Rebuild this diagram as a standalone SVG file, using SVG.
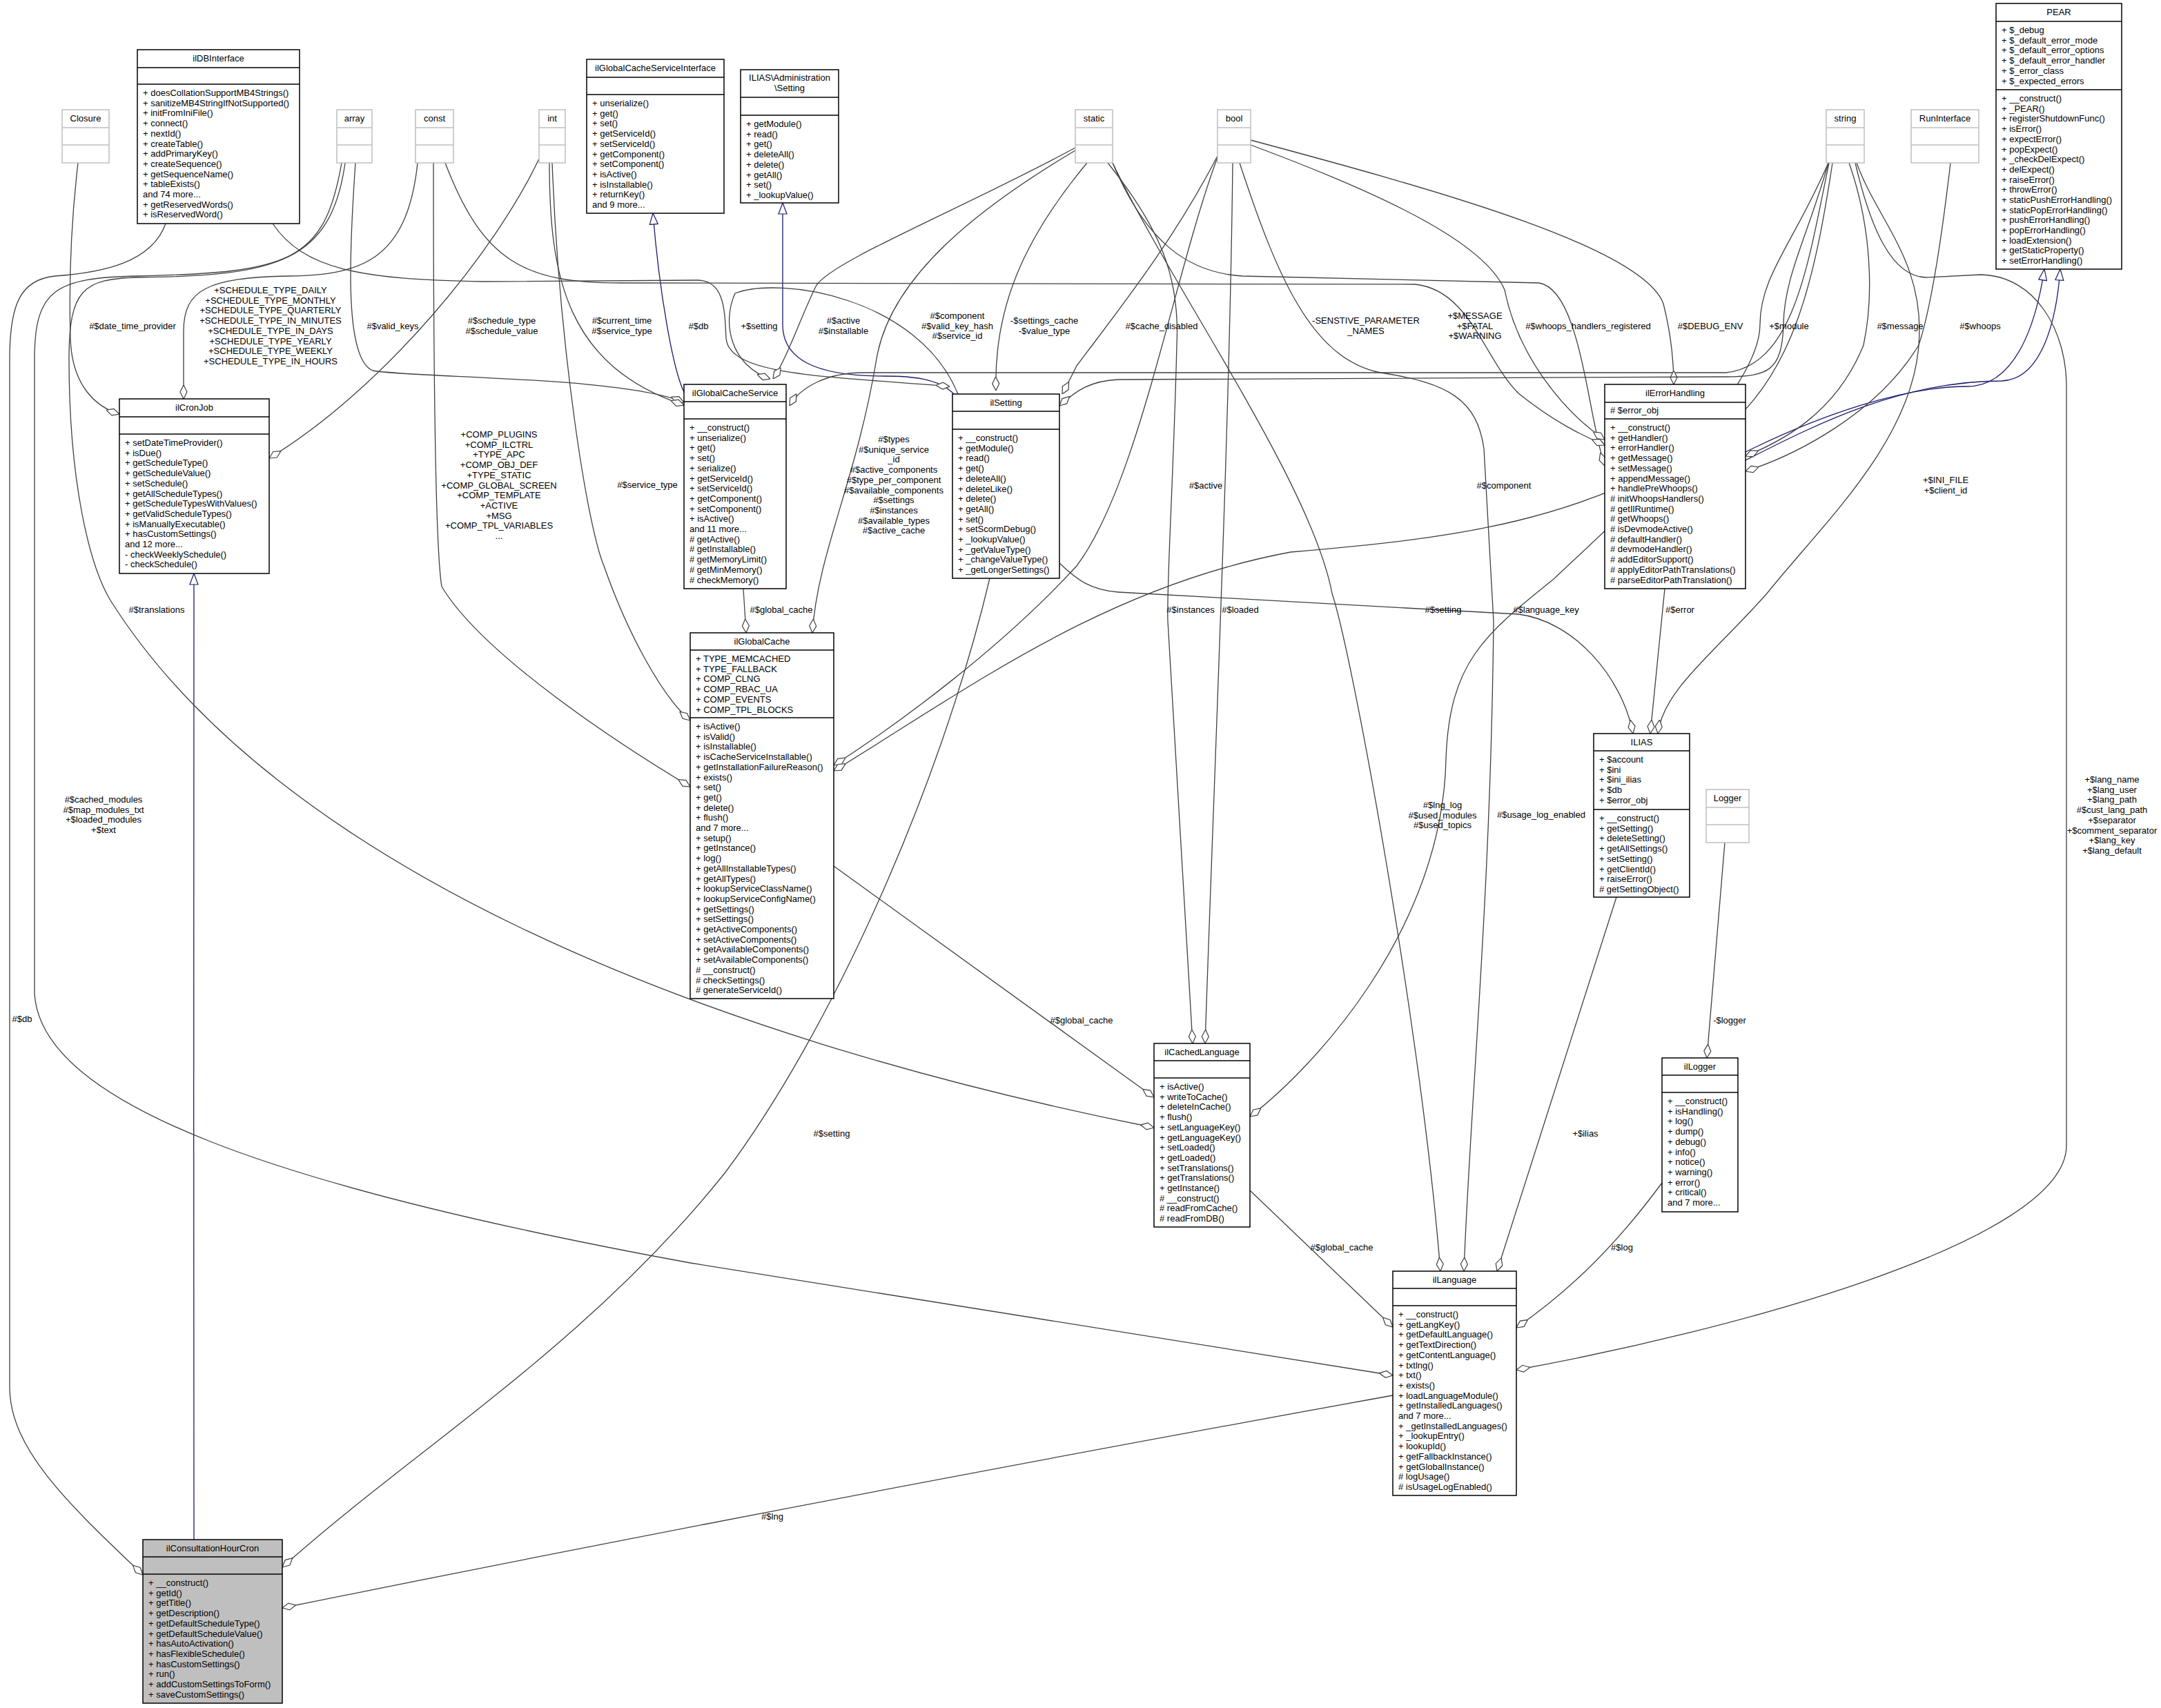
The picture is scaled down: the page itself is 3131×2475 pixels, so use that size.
<svg xmlns="http://www.w3.org/2000/svg" width="3131" height="2475" viewBox="0 0 3131 2475">
<style>
text{font-family:"Liberation Sans",Arial,sans-serif;font-size:13px;fill:#000}
.t{text-anchor:middle}
.l{text-anchor:middle}
.b{fill:#fff;stroke:#000;stroke-width:1.5}
.g{fill:#fff;stroke:#bfbfbf;stroke-width:1.5}
.s{stroke:#000;stroke-width:1.5}
.sg{stroke:#bfbfbf;stroke-width:1.5}
.e{fill:none;stroke:#404040;stroke-width:1.3}
.i{fill:none;stroke:#191970;stroke-width:1.3}
</style>
<defs>
<marker id="d" viewBox="0 -6 20 12" refX="20" refY="0" markerWidth="20" markerHeight="12" markerUnits="userSpaceOnUse" orient="auto"><path d="M20,0 L10,-5 L0,0 L10,5 Z" fill="#fff" stroke="#404040" stroke-width="1.2"/></marker>
<marker id="tr" viewBox="0 -7 18 14" refX="17" refY="0" markerWidth="18" markerHeight="14" markerUnits="userSpaceOnUse" orient="auto"><path d="M1,-6 L17,0 L1,6 Z" fill="#fff" stroke="#191970" stroke-width="1.2"/></marker>
</defs>
<rect width="3131" height="2475" fill="#fff"/>
<g id="connectors">
<path class="i" marker-end="url(#tr)" d="M281,2231 C281,1800 280,1200 281,831"/>
<path class="i" marker-end="url(#tr)" d="M993,572 C975,540 955,420 946,309"/>
<path class="i" marker-end="url(#tr)" d="M1382,571 C1360,548 1320,545 1281,545 C1180,545 1134,520 1134,470 L1134,294"/>
<path class="i" marker-end="url(#tr)" d="M2529,655 C2640,600 2760,560 2850,560 C2920,560 2950,470 2962,390"/>
<path class="i" marker-end="url(#tr)" d="M2529,667 C2640,610 2760,552 2900,552 C2960,550 2980,460 2985,390"/>
<path class="e" marker-end="url(#d)" d="M113,236 C102,330 100,420 102,490 C104,560 140,590 173,600"/>
<path class="e" marker-end="url(#d)" d="M605,236 C590,380 520,398 420,400 C300,402 266,420 266,480 L266,578"/>
<path class="e" marker-end="url(#d)" d="M515,236 C505,380 500,520 540,537 C600,548 900,545 991,583"/>
<path class="e" marker-end="url(#d)" d="M781,230 C720,360 560,560 390,664"/>
<path class="e" marker-end="url(#d)" d="M796,236 C796,400 820,530 991,587"/>
<path class="e" marker-end="url(#d)" d="M395,324 C440,390 520,405 700,408 L1010,406 C1050,406 1050,450 1052,490 C1056,545 1200,545 1376,560"/>
<path class="e" marker-end="url(#d)" d="M1388,571 C1330,430 1130,400 1065,425 C1045,470 1060,530 1116,549"/>
<path class="e" marker-end="url(#d)" d="M1558,214 C1400,300 1200,380 1182,415 C1160,460 1140,520 1120,549"/>
<path class="e" marker-end="url(#d)" d="M2650,236 C2620,380 2600,530 2500,540 L1250,540 C1200,540 1160,560 1144,588"/>
<path class="e" marker-end="url(#d)" d="M1575,236 C1480,350 1440,450 1443,566"/>
<path class="e" marker-end="url(#d)" d="M1764,226 C1700,350 1620,450 1560,530 C1550,550 1545,560 1539,571"/>
<path class="e" marker-end="url(#d)" d="M1612,236 C1660,350 1720,395 1800,400 L2230,410 C2290,420 2300,600 2325,675"/>
<path class="e" marker-end="url(#d)" d="M645,236 C700,380 760,410 900,410 L2050,412 C2130,420 2150,520 2200,570 C2250,610 2290,630 2325,645"/>
<path class="e" marker-end="url(#d)" d="M1812,210 C2000,280 2150,350 2180,420 C2200,520 2270,600 2325,637"/>
<path class="e" marker-end="url(#d)" d="M1812,203 C2100,280 2380,360 2410,440 C2420,480 2425,520 2425,557"/>
<path class="e" marker-end="url(#d)" d="M2649,236 C2620,340 2585,400 2584,470 C2582,540 2560,545 2500,546 L1620,550 C1580,552 1560,565 1535,588"/>
<path class="e" marker-end="url(#d)" d="M2679,236 C2712,330 2715,430 2700,500 C2660,600 2580,640 2529,661"/>
<path class="e" marker-end="url(#d)" d="M2826,236 C2815,330 2800,440 2780,500 C2720,600 2600,660 2529,683"/>
<path class="e" marker-end="url(#d)" d="M2690,236 C2720,320 2790,380 2780,500 C2770,640 2640,760 2560,860 C2480,950 2410,1000 2402,1063"/>
<path class="e" marker-end="url(#d)" d="M2412,853 L2391,1063"/>
<path class="e" marker-end="url(#d)" d="M1535,816 C1560,840 1580,855 1620,858 L2200,890 C2280,900 2350,980 2366,1063"/>
<path class="e" marker-end="url(#d)" d="M2649,236 C2600,350 2550,400 2550,470 C2550,560 2400,700 2250,840 C2150,920 2100,960 2095,1100 C2090,1350 1900,1550 1811,1618"/>
<path class="e" marker-end="url(#d)" d="M1605,236 C1680,330 1710,400 1705,500 C1700,700 1690,850 1692,900 L1728,1512"/>
<path class="e" marker-end="url(#d)" d="M1786,236 C1782,600 1760,1100 1746,1512"/>
<path class="e" marker-end="url(#d)" d="M1764,228 C1700,400 1650,700 1560,820 C1450,940 1300,1050 1208,1109"/>
<path class="e" marker-end="url(#d)" d="M2655,236 C2630,400 2600,540 2500,620 C2300,760 2100,780 1870,800 C1600,850 1400,1000 1208,1117"/>
<path class="e" marker-end="url(#d)" d="M1558,218 C1420,300 1290,400 1270,520 C1240,700 1185,800 1177,917"/>
<path class="e" marker-end="url(#d)" d="M1077,853 L1081,917"/>
<path class="e" marker-end="url(#d)" d="M628,236 C628,500 630,790 640,850 C700,950 900,1080 1000,1140"/>
<path class="e" marker-end="url(#d)" d="M800,236 C810,500 850,760 875,820 C910,920 960,1010 1000,1044"/>
<path class="e" marker-end="url(#d)" d="M1434,838 C1360,1150 1200,1500 1050,1700 C850,1950 600,2100 409,2271"/>
<path class="e" marker-end="url(#d)" d="M2018,2022 Q1200,2170 409,2330"/>
<path class="e" marker-end="url(#d)" d="M1208,1255 L1672,1590"/>
<path class="e" marker-end="url(#d)" d="M1811,1725 L2018,1923"/>
<path class="e" marker-end="url(#d)" d="M1612,236 C1700,420 1900,700 1930,860 C1960,950 2060,1500 2087,1842"/>
<path class="e" marker-end="url(#d)" d="M1796,236 C1850,400 1900,520 2000,540 C2100,555 2140,580 2150,650 L2164,900 C2160,1300 2130,1600 2121,1842"/>
<path class="e" marker-end="url(#d)" d="M2342,1300 L2169,1842"/>
<path class="e" marker-end="url(#d)" d="M2499,1221 L2473,1533"/>
<path class="e" marker-end="url(#d)" d="M2408,1714 C2330,1820 2260,1880 2197,1924"/>
<path class="e" marker-end="url(#d)" d="M2688,236 C2710,330 2740,400 2790,402 L2870,398 C2950,400 2994,480 2994,560 L2994,1660 C2994,1800 2500,1930 2197,1985"/>
<path class="e" marker-end="url(#d)" d="M240,324 C220,380 150,395 80,400 C30,405 14,440 14,520 L14,2010 C14,2100 100,2180 207,2282"/>
<path class="e" marker-end="url(#d)" d="M495,236 C470,380 420,395 200,400 C80,402 50,420 50,520 L50,1440 C60,1600 400,1720 1000,1830 L2018,1993"/>
<path class="e" marker-end="url(#d)" d="M500,236 C480,380 400,400 200,402 C120,404 100,420 100,520 C100,700 130,820 160,870 C400,1250 1000,1500 1672,1634"/>
<g>
<text class="l" x="192" y="477">#$date_time_provider</text>
<text class="l" x="392" y="425"><tspan x="392">+SCHEDULE_TYPE_DAILY</tspan><tspan x="392" dy="14.7">+SCHEDULE_TYPE_MONTHLY</tspan><tspan x="392" dy="14.7">+SCHEDULE_TYPE_QUARTERLY</tspan><tspan x="392" dy="14.7">+SCHEDULE_TYPE_IN_MINUTES</tspan><tspan x="392" dy="14.7">+SCHEDULE_TYPE_IN_DAYS</tspan><tspan x="392" dy="14.7">+SCHEDULE_TYPE_YEARLY</tspan><tspan x="392" dy="14.7">+SCHEDULE_TYPE_WEEKLY</tspan><tspan x="392" dy="14.7">+SCHEDULE_TYPE_IN_HOURS</tspan></text>
<text class="l" x="569" y="477">#$valid_keys</text>
<text class="l" x="727" y="469"><tspan x="727">#$schedule_type</tspan><tspan x="727" dy="14.7">#$schedule_value</tspan></text>
<text class="l" x="901" y="469"><tspan x="901">#$current_time</tspan><tspan x="901" dy="14.7">#$service_type</tspan></text>
<text class="l" x="1012" y="477">#$db</text>
<text class="l" x="1100" y="477">+$setting</text>
<text class="l" x="1222" y="469"><tspan x="1222">#$active</tspan><tspan x="1222" dy="14.7">#$installable</tspan></text>
<text class="l" x="1387" y="462"><tspan x="1387">#$component</tspan><tspan x="1387" dy="14.7">#$valid_key_hash</tspan><tspan x="1387" dy="14.7">#$service_id</tspan></text>
<text class="l" x="1513" y="469"><tspan x="1513">-$settings_cache</tspan><tspan x="1513" dy="14.7">-$value_type</tspan></text>
<text class="l" x="1683" y="477">#$cache_disabled</text>
<text class="l" x="1979" y="469"><tspan x="1979">-SENSTIVE_PARAMETER</tspan><tspan x="1979" dy="14.7">_NAMES</tspan></text>
<text class="l" x="2137" y="462"><tspan x="2137">+$MESSAGE</tspan><tspan x="2137" dy="14.7">+$FATAL</tspan><tspan x="2137" dy="14.7">+$WARNING</tspan></text>
<text class="l" x="2301" y="477">#$whoops_handlers_registered</text>
<text class="l" x="2478" y="477">#$DEBUG_ENV</text>
<text class="l" x="2592" y="477">+$module</text>
<text class="l" x="2753" y="477">#$message</text>
<text class="l" x="2869" y="477">#$whoops</text>
<text class="l" x="1295" y="641"><tspan x="1295">#$types</tspan><tspan x="1295" dy="14.7">#$unique_service</tspan><tspan x="1295" dy="14.7">_id</tspan><tspan x="1295" dy="14.7">#$active_components</tspan><tspan x="1295" dy="14.7">#$type_per_component</tspan><tspan x="1295" dy="14.7">#$available_components</tspan><tspan x="1295" dy="14.7">#$settings</tspan><tspan x="1295" dy="14.7">#$instances</tspan><tspan x="1295" dy="14.7">#$available_types</tspan><tspan x="1295" dy="14.7">#$active_cache</tspan></text>
<text class="l" x="723" y="634"><tspan x="723">+COMP_PLUGINS</tspan><tspan x="723" dy="14.7">+COMP_ILCTRL</tspan><tspan x="723" dy="14.7">+TYPE_APC</tspan><tspan x="723" dy="14.7">+COMP_OBJ_DEF</tspan><tspan x="723" dy="14.7">+TYPE_STATIC</tspan><tspan x="723" dy="14.7">+COMP_GLOBAL_SCREEN</tspan><tspan x="723" dy="14.7">+COMP_TEMPLATE</tspan><tspan x="723" dy="14.7">+ACTIVE</tspan><tspan x="723" dy="14.7">+MSG</tspan><tspan x="723" dy="14.7">+COMP_TPL_VARIABLES</tspan><tspan x="723" dy="14.7">...</tspan></text>
<text class="l" x="938" y="707">#$service_type</text>
<text class="l" x="1747" y="708">#$active</text>
<text class="l" x="2179" y="708">#$component</text>
<text class="l" x="2819" y="700"><tspan x="2819">+$INI_FILE</tspan><tspan x="2819" dy="14.7">+$client_id</tspan></text>
<text class="l" x="1132" y="888">#$global_cache</text>
<text class="l" x="1725" y="888">#$instances</text>
<text class="l" x="1797" y="888">#$loaded</text>
<text class="l" x="2091" y="888">#$setting</text>
<text class="l" x="2240" y="888">#$language_key</text>
<text class="l" x="2434" y="888">#$error</text>
<text class="l" x="227" y="888">#$translations</text>
<text class="l" x="150" y="1163"><tspan x="150">#$cached_modules</tspan><tspan x="150" dy="14.7">#$map_modules_txt</tspan><tspan x="150" dy="14.7">+$loaded_modules</tspan><tspan x="150" dy="14.7">+$text</tspan></text>
<text class="l" x="32" y="1481">#$db</text>
<text class="l" x="2090" y="1171"><tspan x="2090">#$lng_log</tspan><tspan x="2090" dy="14.7">#$used_modules</tspan><tspan x="2090" dy="14.7">#$used_topics</tspan></text>
<text class="l" x="2233" y="1185">#$usage_log_enabled</text>
<text class="l" x="3060" y="1134"><tspan x="3060">+$lang_name</tspan><tspan x="3060" dy="14.7">+$lang_user</tspan><tspan x="3060" dy="14.7">+$lang_path</tspan><tspan x="3060" dy="14.7">#$cust_lang_path</tspan><tspan x="3060" dy="14.7">+$separator</tspan><tspan x="3060" dy="14.7">+$comment_separator</tspan><tspan x="3060" dy="14.7">+$lang_key</tspan><tspan x="3060" dy="14.7">+$lang_default</tspan></text>
<text class="l" x="1567" y="1483">#$global_cache</text>
<text class="l" x="2506" y="1483">-$logger</text>
<text class="l" x="1205" y="1647">#$setting</text>
<text class="l" x="2297" y="1647">+$ilias</text>
<text class="l" x="1944" y="1812">#$global_cache</text>
<text class="l" x="2350" y="1812">#$log</text>
<text class="l" x="1119" y="2202">#$lng</text>
</g>
</g>
<g id="ilDBInterface"><rect class="b" x="199" y="72" width="235" height="252"/><line class="s" x1="199" y1="98" x2="434" y2="98"/><line class="s" x1="199" y1="122" x2="434" y2="122"/><text class="t" x="316.5" y="89">ilDBInterface</text><text x="207" y="139"><tspan x="207">+ doesCollationSupportMB4Strings()</tspan><tspan x="207" dy="14.7">+ sanitizeMB4StringIfNotSupported()</tspan><tspan x="207" dy="14.7">+ initFromIniFile()</tspan><tspan x="207" dy="14.7">+ connect()</tspan><tspan x="207" dy="14.7">+ nextId()</tspan><tspan x="207" dy="14.7">+ createTable()</tspan><tspan x="207" dy="14.7">+ addPrimaryKey()</tspan><tspan x="207" dy="14.7">+ createSequence()</tspan><tspan x="207" dy="14.7">+ getSequenceName()</tspan><tspan x="207" dy="14.7">+ tableExists()</tspan><tspan x="207" dy="14.7">and 74 more...</tspan><tspan x="207" dy="14.7">+ getReservedWords()</tspan><tspan x="207" dy="14.7">+ isReservedWord()</tspan></text></g>
<g id="Closure"><rect class="g" x="90" y="159" width="68" height="77"/><line class="sg" x1="90" y1="185" x2="158" y2="185"/><line class="sg" x1="90" y1="210" x2="158" y2="210"/><text class="t" x="124" y="176">Closure</text></g>
<g id="array"><rect class="g" x="488" y="159" width="51" height="77"/><line class="sg" x1="488" y1="185" x2="539" y2="185"/><line class="sg" x1="488" y1="210" x2="539" y2="210"/><text class="t" x="513.5" y="176">array</text></g>
<g id="const"><rect class="g" x="602" y="159" width="55" height="77"/><line class="sg" x1="602" y1="185" x2="657" y2="185"/><line class="sg" x1="602" y1="210" x2="657" y2="210"/><text class="t" x="629.5" y="176">const</text></g>
<g id="int"><rect class="g" x="781" y="159" width="38" height="77"/><line class="sg" x1="781" y1="185" x2="819" y2="185"/><line class="sg" x1="781" y1="210" x2="819" y2="210"/><text class="t" x="800" y="176">int</text></g>
<g id="ilGlobalCacheServiceInterface"><rect class="b" x="850" y="86" width="199" height="223"/><line class="s" x1="850" y1="112" x2="1049" y2="112"/><line class="s" x1="850" y1="137" x2="1049" y2="137"/><text class="t" x="949.5" y="103">ilGlobalCacheServiceInterface</text><text x="858" y="154"><tspan x="858">+ unserialize()</tspan><tspan x="858" dy="14.7">+ get()</tspan><tspan x="858" dy="14.7">+ set()</tspan><tspan x="858" dy="14.7">+ getServiceId()</tspan><tspan x="858" dy="14.7">+ setServiceId()</tspan><tspan x="858" dy="14.7">+ getComponent()</tspan><tspan x="858" dy="14.7">+ setComponent()</tspan><tspan x="858" dy="14.7">+ isActive()</tspan><tspan x="858" dy="14.7">+ isInstallable()</tspan><tspan x="858" dy="14.7">+ returnKey()</tspan><tspan x="858" dy="14.7">and 9 more...</tspan></text></g>
<g id="AdministrationSetting"><rect class="b" x="1073" y="101" width="142" height="193"/><line class="s" x1="1073" y1="141" x2="1215" y2="141"/><line class="s" x1="1073" y1="167" x2="1215" y2="167"/><text class="t" x="1144" y="117"><tspan x="1144">ILIAS\Administration</tspan><tspan x="1144" dy="15">\Setting</tspan></text><text x="1081" y="184"><tspan x="1081">+ getModule()</tspan><tspan x="1081" dy="14.7">+ read()</tspan><tspan x="1081" dy="14.7">+ get()</tspan><tspan x="1081" dy="14.7">+ deleteAll()</tspan><tspan x="1081" dy="14.7">+ delete()</tspan><tspan x="1081" dy="14.7">+ getAll()</tspan><tspan x="1081" dy="14.7">+ set()</tspan><tspan x="1081" dy="14.7">+ _lookupValue()</tspan></text></g>
<g id="static"><rect class="g" x="1558" y="159" width="54" height="77"/><line class="sg" x1="1558" y1="185" x2="1612" y2="185"/><line class="sg" x1="1558" y1="210" x2="1612" y2="210"/><text class="t" x="1585" y="176">static</text></g>
<g id="bool"><rect class="g" x="1764" y="159" width="48" height="77"/><line class="sg" x1="1764" y1="185" x2="1812" y2="185"/><line class="sg" x1="1764" y1="210" x2="1812" y2="210"/><text class="t" x="1788" y="176">bool</text></g>
<g id="string"><rect class="g" x="2646" y="159" width="55" height="77"/><line class="sg" x1="2646" y1="185" x2="2701" y2="185"/><line class="sg" x1="2646" y1="210" x2="2701" y2="210"/><text class="t" x="2673.5" y="176">string</text></g>
<g id="RunInterface"><rect class="g" x="2769" y="159" width="98" height="77"/><line class="sg" x1="2769" y1="185" x2="2867" y2="185"/><line class="sg" x1="2769" y1="210" x2="2867" y2="210"/><text class="t" x="2818" y="176">RunInterface</text></g>
<g id="PEAR"><rect class="b" x="2892" y="5" width="182" height="385"/><line class="s" x1="2892" y1="31" x2="3074" y2="31"/><line class="s" x1="2892" y1="130" x2="3074" y2="130"/><text class="t" x="2983" y="22">PEAR</text><text x="2900" y="48"><tspan x="2900">+ $_debug</tspan><tspan x="2900" dy="14.7">+ $_default_error_mode</tspan><tspan x="2900" dy="14.7">+ $_default_error_options</tspan><tspan x="2900" dy="14.7">+ $_default_error_handler</tspan><tspan x="2900" dy="14.7">+ $_error_class</tspan><tspan x="2900" dy="14.7">+ $_expected_errors</tspan></text><text x="2900" y="147"><tspan x="2900">+ __construct()</tspan><tspan x="2900" dy="14.7">+ _PEAR()</tspan><tspan x="2900" dy="14.7">+ registerShutdownFunc()</tspan><tspan x="2900" dy="14.7">+ isError()</tspan><tspan x="2900" dy="14.7">+ expectError()</tspan><tspan x="2900" dy="14.7">+ popExpect()</tspan><tspan x="2900" dy="14.7">+ _checkDelExpect()</tspan><tspan x="2900" dy="14.7">+ delExpect()</tspan><tspan x="2900" dy="14.7">+ raiseError()</tspan><tspan x="2900" dy="14.7">+ throwError()</tspan><tspan x="2900" dy="14.7">+ staticPushErrorHandling()</tspan><tspan x="2900" dy="14.7">+ staticPopErrorHandling()</tspan><tspan x="2900" dy="14.7">+ pushErrorHandling()</tspan><tspan x="2900" dy="14.7">+ popErrorHandling()</tspan><tspan x="2900" dy="14.7">+ loadExtension()</tspan><tspan x="2900" dy="14.7">+ getStaticProperty()</tspan><tspan x="2900" dy="14.7">+ setErrorHandling()</tspan></text></g>
<g id="ilCronJob"><rect class="b" x="173" y="578" width="217" height="253"/><line class="s" x1="173" y1="604" x2="390" y2="604"/><line class="s" x1="173" y1="629" x2="390" y2="629"/><text class="t" x="281.5" y="595">ilCronJob</text><text x="181" y="646"><tspan x="181">+ setDateTimeProvider()</tspan><tspan x="181" dy="14.7">+ isDue()</tspan><tspan x="181" dy="14.7">+ getScheduleType()</tspan><tspan x="181" dy="14.7">+ getScheduleValue()</tspan><tspan x="181" dy="14.7">+ setSchedule()</tspan><tspan x="181" dy="14.7">+ getAllScheduleTypes()</tspan><tspan x="181" dy="14.7">+ getScheduleTypesWithValues()</tspan><tspan x="181" dy="14.7">+ getValidScheduleTypes()</tspan><tspan x="181" dy="14.7">+ isManuallyExecutable()</tspan><tspan x="181" dy="14.7">+ hasCustomSettings()</tspan><tspan x="181" dy="14.7">and 12 more...</tspan><tspan x="181" dy="14.7">- checkWeeklySchedule()</tspan><tspan x="181" dy="14.7">- checkSchedule()</tspan></text></g>
<g id="ilGlobalCacheService"><rect class="b" x="991" y="557" width="148" height="296"/><line class="s" x1="991" y1="582" x2="1139" y2="582"/><line class="s" x1="991" y1="607" x2="1139" y2="607"/><text class="t" x="1065" y="574">ilGlobalCacheService</text><text x="999" y="624"><tspan x="999">+ __construct()</tspan><tspan x="999" dy="14.7">+ unserialize()</tspan><tspan x="999" dy="14.7">+ get()</tspan><tspan x="999" dy="14.7">+ set()</tspan><tspan x="999" dy="14.7">+ serialize()</tspan><tspan x="999" dy="14.7">+ getServiceId()</tspan><tspan x="999" dy="14.7">+ setServiceId()</tspan><tspan x="999" dy="14.7">+ getComponent()</tspan><tspan x="999" dy="14.7">+ setComponent()</tspan><tspan x="999" dy="14.7">+ isActive()</tspan><tspan x="999" dy="14.7">and 11 more...</tspan><tspan x="999" dy="14.7"># getActive()</tspan><tspan x="999" dy="14.7"># getInstallable()</tspan><tspan x="999" dy="14.7"># getMemoryLimit()</tspan><tspan x="999" dy="14.7"># getMinMemory()</tspan><tspan x="999" dy="14.7"># checkMemory()</tspan></text></g>
<g id="ilSetting"><rect class="b" x="1380" y="571" width="155" height="267"/><line class="s" x1="1380" y1="596" x2="1535" y2="596"/><line class="s" x1="1380" y1="622" x2="1535" y2="622"/><text class="t" x="1457.5" y="588">ilSetting</text><text x="1388" y="639"><tspan x="1388">+ __construct()</tspan><tspan x="1388" dy="14.7">+ getModule()</tspan><tspan x="1388" dy="14.7">+ read()</tspan><tspan x="1388" dy="14.7">+ get()</tspan><tspan x="1388" dy="14.7">+ deleteAll()</tspan><tspan x="1388" dy="14.7">+ deleteLike()</tspan><tspan x="1388" dy="14.7">+ delete()</tspan><tspan x="1388" dy="14.7">+ getAll()</tspan><tspan x="1388" dy="14.7">+ set()</tspan><tspan x="1388" dy="14.7">+ setScormDebug()</tspan><tspan x="1388" dy="14.7">+ _lookupValue()</tspan><tspan x="1388" dy="14.7">+ _getValueType()</tspan><tspan x="1388" dy="14.7">+ _changeValueType()</tspan><tspan x="1388" dy="14.7">+ _getLongerSettings()</tspan></text></g>
<g id="ilErrorHandling"><rect class="b" x="2325" y="557" width="204" height="296"/><line class="s" x1="2325" y1="583" x2="2529" y2="583"/><line class="s" x1="2325" y1="607" x2="2529" y2="607"/><text class="t" x="2427" y="574">ilErrorHandling</text><text x="2333" y="599"># $error_obj</text><text x="2333" y="624"><tspan x="2333">+ __construct()</tspan><tspan x="2333" dy="14.7">+ getHandler()</tspan><tspan x="2333" dy="14.7">+ errorHandler()</tspan><tspan x="2333" dy="14.7">+ getMessage()</tspan><tspan x="2333" dy="14.7">+ setMessage()</tspan><tspan x="2333" dy="14.7">+ appendMessage()</tspan><tspan x="2333" dy="14.7">+ handlePreWhoops()</tspan><tspan x="2333" dy="14.7"># initWhoopsHandlers()</tspan><tspan x="2333" dy="14.7"># getIlRuntime()</tspan><tspan x="2333" dy="14.7"># getWhoops()</tspan><tspan x="2333" dy="14.7"># isDevmodeActive()</tspan><tspan x="2333" dy="14.7"># defaultHandler()</tspan><tspan x="2333" dy="14.7"># devmodeHandler()</tspan><tspan x="2333" dy="14.7"># addEditorSupport()</tspan><tspan x="2333" dy="14.7"># applyEditorPathTranslations()</tspan><tspan x="2333" dy="14.7"># parseEditorPathTranslation()</tspan></text></g>
<g id="ilGlobalCache"><rect class="b" x="1000" y="917" width="208" height="530"/><line class="s" x1="1000" y1="942" x2="1208" y2="942"/><line class="s" x1="1000" y1="1040" x2="1208" y2="1040"/><text class="t" x="1104" y="934">ilGlobalCache</text><text x="1008" y="959"><tspan x="1008">+ TYPE_MEMCACHED</tspan><tspan x="1008" dy="14.7">+ TYPE_FALLBACK</tspan><tspan x="1008" dy="14.7">+ COMP_CLNG</tspan><tspan x="1008" dy="14.7">+ COMP_RBAC_UA</tspan><tspan x="1008" dy="14.7">+ COMP_EVENTS</tspan><tspan x="1008" dy="14.7">+ COMP_TPL_BLOCKS</tspan></text><text x="1008" y="1057"><tspan x="1008">+ isActive()</tspan><tspan x="1008" dy="14.7">+ isValid()</tspan><tspan x="1008" dy="14.7">+ isInstallable()</tspan><tspan x="1008" dy="14.7">+ isCacheServiceInstallable()</tspan><tspan x="1008" dy="14.7">+ getInstallationFailureReason()</tspan><tspan x="1008" dy="14.7">+ exists()</tspan><tspan x="1008" dy="14.7">+ set()</tspan><tspan x="1008" dy="14.7">+ get()</tspan><tspan x="1008" dy="14.7">+ delete()</tspan><tspan x="1008" dy="14.7">+ flush()</tspan><tspan x="1008" dy="14.7">and 7 more...</tspan><tspan x="1008" dy="14.7">+ setup()</tspan><tspan x="1008" dy="14.7">+ getInstance()</tspan><tspan x="1008" dy="14.7">+ log()</tspan><tspan x="1008" dy="14.7">+ getAllInstallableTypes()</tspan><tspan x="1008" dy="14.7">+ getAllTypes()</tspan><tspan x="1008" dy="14.7">+ lookupServiceClassName()</tspan><tspan x="1008" dy="14.7">+ lookupServiceConfigName()</tspan><tspan x="1008" dy="14.7">+ getSettings()</tspan><tspan x="1008" dy="14.7">+ setSettings()</tspan><tspan x="1008" dy="14.7">+ getActiveComponents()</tspan><tspan x="1008" dy="14.7">+ setActiveComponents()</tspan><tspan x="1008" dy="14.7">+ getAvailableComponents()</tspan><tspan x="1008" dy="14.7">+ setAvailableComponents()</tspan><tspan x="1008" dy="14.7"># __construct()</tspan><tspan x="1008" dy="14.7"># checkSettings()</tspan><tspan x="1008" dy="14.7"># generateServiceId()</tspan></text></g>
<g id="ILIAS"><rect class="b" x="2309" y="1063" width="139" height="237"/><line class="s" x1="2309" y1="1088" x2="2448" y2="1088"/><line class="s" x1="2309" y1="1173" x2="2448" y2="1173"/><text class="t" x="2378.5" y="1080">ILIAS</text><text x="2317" y="1105"><tspan x="2317">+ $account</tspan><tspan x="2317" dy="14.7">+ $ini</tspan><tspan x="2317" dy="14.7">+ $ini_ilias</tspan><tspan x="2317" dy="14.7">+ $db</tspan><tspan x="2317" dy="14.7">+ $error_obj</tspan></text><text x="2317" y="1190"><tspan x="2317">+ __construct()</tspan><tspan x="2317" dy="14.7">+ getSetting()</tspan><tspan x="2317" dy="14.7">+ deleteSetting()</tspan><tspan x="2317" dy="14.7">+ getAllSettings()</tspan><tspan x="2317" dy="14.7">+ setSetting()</tspan><tspan x="2317" dy="14.7">+ getClientId()</tspan><tspan x="2317" dy="14.7">+ raiseError()</tspan><tspan x="2317" dy="14.7"># getSettingObject()</tspan></text></g>
<g id="Logger"><rect class="g" x="2472" y="1144" width="62" height="77"/><line class="sg" x1="2472" y1="1170" x2="2534" y2="1170"/><line class="sg" x1="2472" y1="1195" x2="2534" y2="1195"/><text class="t" x="2503" y="1161">Logger</text></g>
<g id="ilLogger"><rect class="b" x="2408" y="1533" width="110" height="223"/><line class="s" x1="2408" y1="1558" x2="2518" y2="1558"/><line class="s" x1="2408" y1="1583" x2="2518" y2="1583"/><text class="t" x="2463" y="1550">ilLogger</text><text x="2416" y="1600"><tspan x="2416">+ __construct()</tspan><tspan x="2416" dy="14.7">+ isHandling()</tspan><tspan x="2416" dy="14.7">+ log()</tspan><tspan x="2416" dy="14.7">+ dump()</tspan><tspan x="2416" dy="14.7">+ debug()</tspan><tspan x="2416" dy="14.7">+ info()</tspan><tspan x="2416" dy="14.7">+ notice()</tspan><tspan x="2416" dy="14.7">+ warning()</tspan><tspan x="2416" dy="14.7">+ error()</tspan><tspan x="2416" dy="14.7">+ critical()</tspan><tspan x="2416" dy="14.7">and 7 more...</tspan></text></g>
<g id="ilCachedLanguage"><rect class="b" x="1672" y="1512" width="139" height="266"/><line class="s" x1="1672" y1="1537" x2="1811" y2="1537"/><line class="s" x1="1672" y1="1562" x2="1811" y2="1562"/><text class="t" x="1741.5" y="1529">ilCachedLanguage</text><text x="1680" y="1579"><tspan x="1680">+ isActive()</tspan><tspan x="1680" dy="14.7">+ writeToCache()</tspan><tspan x="1680" dy="14.7">+ deleteInCache()</tspan><tspan x="1680" dy="14.7">+ flush()</tspan><tspan x="1680" dy="14.7">+ setLanguageKey()</tspan><tspan x="1680" dy="14.7">+ getLanguageKey()</tspan><tspan x="1680" dy="14.7">+ setLoaded()</tspan><tspan x="1680" dy="14.7">+ getLoaded()</tspan><tspan x="1680" dy="14.7">+ setTranslations()</tspan><tspan x="1680" dy="14.7">+ getTranslations()</tspan><tspan x="1680" dy="14.7">+ getInstance()</tspan><tspan x="1680" dy="14.7"># __construct()</tspan><tspan x="1680" dy="14.7"># readFromCache()</tspan><tspan x="1680" dy="14.7"># readFromDB()</tspan></text></g>
<g id="ilLanguage"><rect class="b" x="2018" y="1842" width="179" height="325"/><line class="s" x1="2018" y1="1867" x2="2197" y2="1867"/><line class="s" x1="2018" y1="1892" x2="2197" y2="1892"/><text class="t" x="2107.5" y="1859">ilLanguage</text><text x="2026" y="1909"><tspan x="2026">+ __construct()</tspan><tspan x="2026" dy="14.7">+ getLangKey()</tspan><tspan x="2026" dy="14.7">+ getDefaultLanguage()</tspan><tspan x="2026" dy="14.7">+ getTextDirection()</tspan><tspan x="2026" dy="14.7">+ getContentLanguage()</tspan><tspan x="2026" dy="14.7">+ txtlng()</tspan><tspan x="2026" dy="14.7">+ txt()</tspan><tspan x="2026" dy="14.7">+ exists()</tspan><tspan x="2026" dy="14.7">+ loadLanguageModule()</tspan><tspan x="2026" dy="14.7">+ getInstalledLanguages()</tspan><tspan x="2026" dy="14.7">and 7 more...</tspan><tspan x="2026" dy="14.7">+ _getInstalledLanguages()</tspan><tspan x="2026" dy="14.7">+ _lookupEntry()</tspan><tspan x="2026" dy="14.7">+ lookupId()</tspan><tspan x="2026" dy="14.7">+ getFallbackInstance()</tspan><tspan x="2026" dy="14.7">+ getGlobalInstance()</tspan><tspan x="2026" dy="14.7"># logUsage()</tspan><tspan x="2026" dy="14.7"># isUsageLogEnabled()</tspan></text></g>
<g id="ilConsultationHourCron"><rect x="207" y="2231" width="202" height="237" fill="#bfbfbf" stroke="#000" stroke-width="1.5"/><line class="s" x1="207" y1="2256" x2="409" y2="2256"/><line class="s" x1="207" y1="2281" x2="409" y2="2281"/><text class="t" x="308" y="2248">ilConsultationHourCron</text><text x="215" y="2298"><tspan x="215">+ __construct()</tspan><tspan x="215" dy="14.7">+ getId()</tspan><tspan x="215" dy="14.7">+ getTitle()</tspan><tspan x="215" dy="14.7">+ getDescription()</tspan><tspan x="215" dy="14.7">+ getDefaultScheduleType()</tspan><tspan x="215" dy="14.7">+ getDefaultScheduleValue()</tspan><tspan x="215" dy="14.7">+ hasAutoActivation()</tspan><tspan x="215" dy="14.7">+ hasFlexibleSchedule()</tspan><tspan x="215" dy="14.7">+ hasCustomSettings()</tspan><tspan x="215" dy="14.7">+ run()</tspan><tspan x="215" dy="14.7">+ addCustomSettingsToForm()</tspan><tspan x="215" dy="14.7">+ saveCustomSettings()</tspan></text></g>
</svg>
